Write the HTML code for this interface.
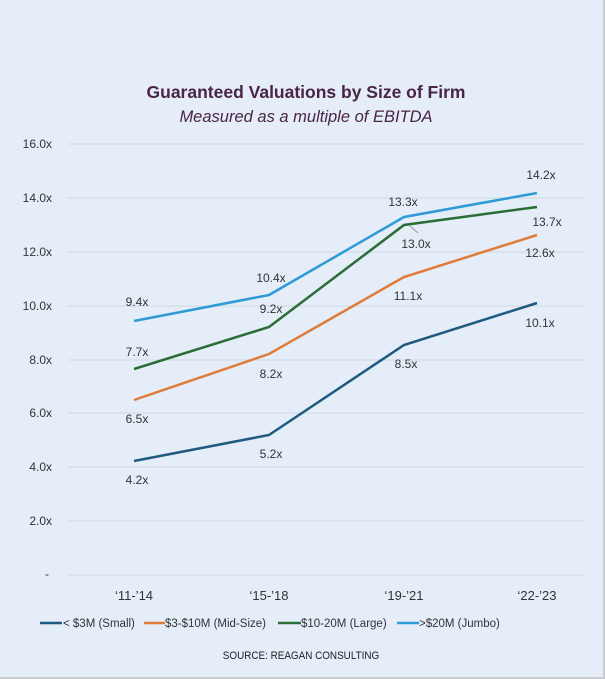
<!DOCTYPE html>
<html><head><style>
body{margin:0;background:#fff;}
svg{display:block;font-family:"Liberation Sans",sans-serif;}
</style></head><body>
<svg width="605" height="679" viewBox="0 0 605 679">
<rect x="0" y="0" width="605" height="679" fill="#c9ccd0"/>
<rect x="0" y="0" width="603" height="677" fill="#e4edf8"/>
<text x="306" y="98" text-anchor="middle" font-size="17.5" font-weight="bold" fill="#4a2545">Guaranteed Valuations by Size of Firm</text>
<text x="306" y="122" text-anchor="middle" font-size="16.5" font-style="italic" fill="#4a2545">Measured as a multiple of EBITDA</text>
<g stroke="#cfd6e0" stroke-width="1">
<line x1="68" x2="584" y1="144" y2="144"/><line x1="68" x2="584" y1="198" y2="198"/>
<line x1="68" x2="584" y1="252" y2="252"/><line x1="68" x2="584" y1="306" y2="306"/>
<line x1="68" x2="584" y1="360" y2="360"/><line x1="68" x2="584" y1="413" y2="413"/>
<line x1="68" x2="584" y1="467" y2="467"/><line x1="68" x2="584" y1="521" y2="521"/>
<line x1="68" x2="584" y1="575" y2="575"/>
</g>
<g font-size="12" fill="#333" text-anchor="end">
<text x="52" y="148">16.0x</text><text x="52" y="202">14.0x</text><text x="52" y="256">12.0x</text>
<text x="52" y="310">10.0x</text><text x="52" y="364">8.0x</text><text x="52" y="417">6.0x</text>
<text x="52" y="471">4.0x</text><text x="52" y="525">2.0x</text><text x="49" y="578">-</text>
</g>
<g font-size="13" fill="#333" text-anchor="middle">
<text x="134" y="600">‘11-’14</text><text x="269" y="600">‘15-’18</text>
<text x="404" y="600">‘19-’21</text><text x="537" y="600">‘22-’23</text>
</g>
<g fill="none" stroke-width="2.5">
<polyline stroke="#1f5a80" points="134,461 269,435 404,345 537,303"/>
<polyline stroke="#e07b39" points="134,400 269,354 404,277 537,235"/>
<polyline stroke="#2a6e36" points="134,369 269,327 404,225 537,207"/>
<polyline stroke="#2e9ad6" points="134,321 269,295 404,217 537,193"/>
</g>
<line x1="410" y1="226" x2="418" y2="233" stroke="#999" stroke-width="1"/>
<g font-size="12" fill="#333" text-anchor="middle">
<text x="137" y="306">9.4x</text><text x="137" y="356">7.7x</text><text x="137" y="423">6.5x</text><text x="137" y="484">4.2x</text>
<text x="271" y="282">10.4x</text><text x="271" y="313">9.2x</text><text x="271" y="378">8.2x</text><text x="271" y="458">5.2x</text>
<text x="403" y="206">13.3x</text><text x="416" y="248">13.0x</text><text x="408" y="300">11.1x</text><text x="406" y="368">8.5x</text>
<text x="541" y="179">14.2x</text><text x="547" y="226">13.7x</text><text x="540" y="257">12.6x</text><text x="540" y="327">10.1x</text>
</g>
<g stroke-width="2.5">
<line x1="40" x2="62" y1="623" y2="623" stroke="#1f5a80"/>
<line x1="144" x2="165" y1="623" y2="623" stroke="#e07b39"/>
<line x1="278" x2="301" y1="623" y2="623" stroke="#2a6e36"/>
<line x1="397" x2="419" y1="623" y2="623" stroke="#2e9ad6"/>
</g>
<g font-size="11.5" fill="#333">
<text x="63" y="627">&lt; $3M (Small)</text>
<text x="165" y="627">$3-$10M (Mid-Size)</text>
<text x="301" y="627">$10-20M (Large)</text>
<text x="419" y="627">&gt;$20M (Jumbo)</text>
</g>
<text x="301" y="659" text-anchor="middle" font-size="11" fill="#222" transform="translate(301 0) scale(0.9 1) translate(-301 0)">SOURCE: REAGAN CONSULTING</text>
</svg>
</body></html>
